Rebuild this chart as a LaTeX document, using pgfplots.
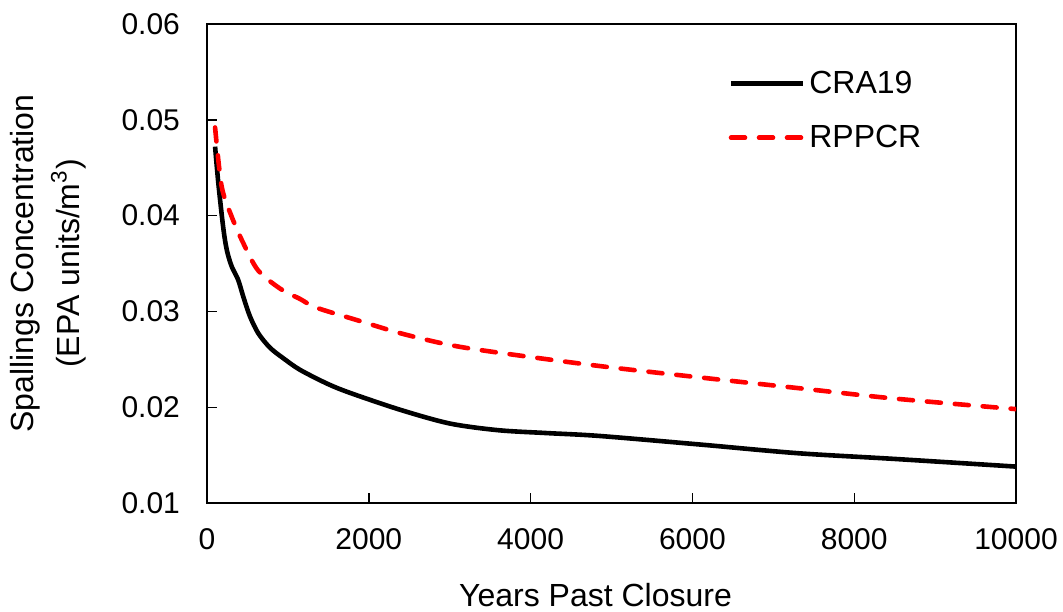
\documentclass[border=0pt]{standalone}
\usepackage{fontspec}
\setmainfont{Liberation Sans}
\usepackage{pgfplots}
\pgfplotsset{compat=1.18}
\begin{document}
\begin{tikzpicture}
\begin{axis}[
  scale only axis,
  width=404.5pt, height=239.5pt,
  xmin=0, xmax=10000, ymin=0.01, ymax=0.06,
  xtick={0,2000,4000,6000,8000,10000},
  ytick={0.01,0.02,0.03,0.04,0.05,0.06},
  xtick pos=bottom, ytick pos=left,
  tick align=inside,
  major tick length=5pt,
  axis line style={line width=0.9pt},
  every tick/.style={black, line width=0.7pt},
  scaled x ticks=false,
  scaled y ticks=false,
  /pgf/number format/assume math mode=true,
  x tick label style={/pgf/number format/1000 sep={}, font=\fontsize{15}{18}\selectfont, yshift=-9pt},
  y tick label style={/pgf/number format/fixed, /pgf/number format/fixed zerofill, /pgf/number format/precision=2, font=\fontsize{15}{18}\selectfont, xshift=-10pt},
  xlabel={Years Past Closure},
  xlabel style={font=\fontsize{16}{19}\selectfont, yshift=-10pt, xshift=-8pt},
  ylabel={Spallings Concentration\\[5pt](EPA units/m\textsuperscript{3})},
  ylabel style={font=\fontsize{16}{18}\selectfont, align=center, yshift=11pt},
  legend cell align=left,
  legend style={draw=none, fill=none, at={(rel axis cs:0.637,0.92)}, anchor=north west,
    font=\fontsize{16}{19}\selectfont, row sep=10.5pt},
  legend image code/.code={\draw[#1] (0pt,0pt) -- (36pt,0pt);},
]
\addplot[black, line width=2.3pt, smooth] coordinates {
(100,0.0472) (140,0.0434) (200,0.0388) (245,0.0364) (305,0.0347) (385,0.0333)
(450,0.0315) (530,0.0295) (635,0.0277) (780,0.0262) (945,0.0251) (1150,0.0239)
(1500,0.0224) (1800,0.0214) (2400,0.0197) (3000,0.0183) (3600,0.0176)
(4200,0.0173) (4850,0.0170) (6100,0.0161) (7300,0.0152) (8500,0.0146) (10000,0.0138)
};
\addlegendentry{CRA19}
\addplot[red, line width=2.3pt, dash pattern=on 7pt off 7pt, line cap=round, smooth] coordinates {
(100,0.0492) (180,0.0431) (300,0.0400) (450,0.0371) (630,0.0343) (900,0.0324)
(1150,0.0313) (1350,0.0304) (1850,0.0291) (2400,0.0277) (3000,0.0265)
(3600,0.0257) (4850,0.0243) (6100,0.0231) (7300,0.0220) (8500,0.0209) (10000,0.0198)
};
\addlegendentry{RPPCR}
\end{axis}
\pgfresetboundingbox
\path ([shift={(-103.5pt,-54pt)}]current axis.south west) rectangle ([shift={(428pt,251.5pt)}]current axis.south west);
\end{tikzpicture}
\end{document}
